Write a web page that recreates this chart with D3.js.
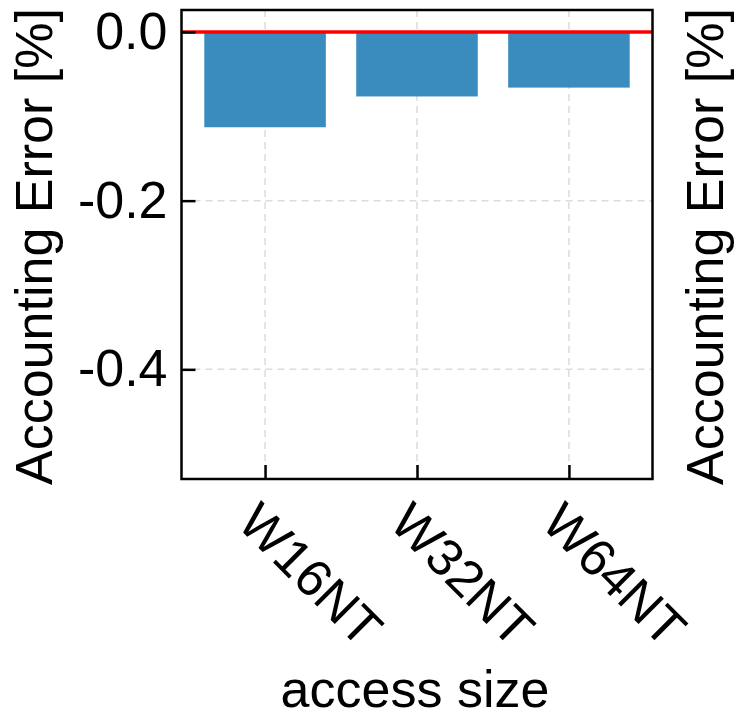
<!DOCTYPE html>
<html>
<head>
<meta charset="utf-8">
<script src="https://cdn.jsdelivr.net/npm/d3@7"></script>
<style>
  body { margin: 0; background: #fff; }
  text { font-family: "Liberation Sans", Arial, sans-serif; fill: #000; }
</style>
</head>
<body>
<div id="chart"></div>
<script>
// data
var categories = ["W16NT", "W32NT", "W64NT"];
var errors = [-0.113, -0.0765, -0.066];
var yTicks = [0, -0.2, -0.4];

var width = 737, height = 714;
var margin = {top: 10, right: 84.5, bottom: 235, left: 181.5};
var plotW = width - margin.left - margin.right,
    plotH = height - margin.top - margin.bottom;
var fontSize = 52;

var xScale = d3.scaleLinear()
    .domain([-0.55, categories.length - 0.45])
    .range([0, plotW]);

var yScale = d3.scaleLinear()
    .domain([-0.53, 0.026])
    .range([plotH, 0]);

var svg = d3.select("#chart").append("svg")
    .attr("width", width)
    .attr("height", height);

var g = svg.append("g")
    .attr("transform", "translate(" + margin.left + "," + margin.top + ")");

// dashed grid
g.selectAll(".hgrid")
    .data(yTicks)
    .enter().append("line")
    .attr("x1", 0).attr("x2", plotW)
    .attr("y1", d => yScale(d)).attr("y2", d => yScale(d))
    .attr("style", "stroke: #dcdcdc; stroke-width: 1.5; stroke-dasharray: 7,5;");

g.selectAll(".vgrid")
    .data(categories)
    .enter().append("line")
    .attr("x1", (d, i) => xScale(i)).attr("x2", (d, i) => xScale(i))
    .attr("y1", 0).attr("y2", plotH)
    .attr("style", "stroke: #dcdcdc; stroke-width: 1.5; stroke-dasharray: 7,5;");

// bars
var barW = xScale(0.8) - xScale(0);
g.selectAll(".bar")
    .data(errors)
    .enter().append("rect")
    .attr("x", (d, i) => xScale(i) - barW / 2)
    .attr("width", barW)
    .attr("y", yScale(0))
    .attr("height", d => yScale(d) - yScale(0))
    .attr("style", "fill: #2f86bb; fill-opacity: 0.95;");

// zero line
g.append("line")
    .attr("x1", 0).attr("x2", plotW)
    .attr("y1", yScale(0)).attr("y2", yScale(0))
    .attr("style", "stroke: #ff0000; stroke-width: 3.5;");

// axes (ticks pointing in)
var yAxis = g.append("g")
    .call(d3.axisLeft(yScale)
        .tickValues(yTicks)
        .tickFormat(d => d.toFixed(1))
        .tickSizeInner(-14)
        .tickSizeOuter(0)
        .tickPadding(14));

var xAxis = g.append("g")
    .attr("transform", "translate(0," + plotH + ")")
    .call(d3.axisBottom(xScale)
        .tickValues(d3.range(categories.length))
        .tickFormat(i => categories[i])
        .tickSizeInner(-14)
        .tickSizeOuter(0));

[yAxis, xAxis].forEach(function(a) {
    a.select(".domain").remove();
    a.selectAll("line").attr("stroke", "#000").attr("stroke-width", 2.5);
    a.selectAll("text").attr("font-size", fontSize).attr("font-family", null);
});

xAxis.selectAll("text")
    .attr("y", 0).attr("dy", 0)
    .attr("text-anchor", "start")
    .attr("transform", "translate(-30,46) rotate(45)");

// frame
g.append("rect")
    .attr("width", plotW).attr("height", plotH)
    .attr("style", "fill: none; stroke: #000; stroke-width: 2.5;");

// labels
svg.append("text")
    .attr("transform", "translate(52," + (margin.top + plotH / 2 + 2) + ") rotate(-90)")
    .attr("text-anchor", "middle")
    .attr("font-size", fontSize)
    .text("Accounting Error [%]");

svg.append("text")
    .attr("transform", "translate(723," + (margin.top + plotH / 2 + 2) + ") rotate(-90)")
    .attr("text-anchor", "middle")
    .attr("font-size", fontSize)
    .text("Accounting Error [%]");

svg.append("text")
    .attr("x", margin.left + plotW / 2 - 2)
    .attr("y", 707)
    .attr("text-anchor", "middle")
    .attr("font-size", fontSize)
    .text("access size");
</script>
</body>
</html>
